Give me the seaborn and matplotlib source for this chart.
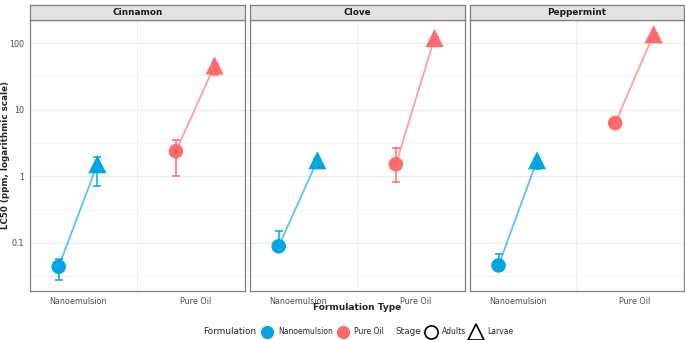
import numpy as np
import pandas as pd
import matplotlib
matplotlib.use('Agg')
import matplotlib.pyplot as plt
from matplotlib.lines import Line2D
import seaborn as sb

# data (LC50, ppm)
oil = ['Cinnamon'] * 4 + ['Clove'] * 4 + ['Peppermint'] * 4
formulation = ['Nanoemulsion', 'Nanoemulsion', 'Pure Oil', 'Pure Oil'] * 3
stage = ['Adults', 'Larvae'] * 6
lc50 = [0.044, 1.52, 2.38, 46.0,
        0.089, 1.74, 1.52, 119.0,
        0.046, 1.74, 6.3, 136.0]
lower = [0.028, 0.71, 1.01, 33.0,
         0.075, 1.62, 0.81, 112.0,
         0.040, 1.27, 5.7, 128.0]
upper = [0.058, 1.95, 3.47, 49.0,
         0.149, 1.82, 2.64, 124.0,
         0.069, 1.82, 7.0, 142.0]

oils = ['Cinnamon', 'Clove', 'Peppermint']
form_order = ['Nanoemulsion', 'Pure Oil']
palette = {'Nanoemulsion': '#00A5E3', 'Pure Oil': '#FF6B6B'}
markers = {'Adults': 'o', 'Larvae': '^'}
msize = {'Adults': 110, 'Larvae': 170}

df = pd.DataFrame({'oil': oil, 'formulation': formulation, 'stage': stage,
                   'lc50': lc50, 'lower': lower, 'upper': upper})
dodge = {'Adults': -0.165, 'Larvae': 0.165}
df['xpos'] = df['formulation'].map({f: i + 1 for i, f in enumerate(form_order)}) + df['stage'].map(dodge)

sb.set_style('white')
plt.rcParams['font.family'] = ['DejaVu Sans']

W, H = 685, 340
fig = plt.figure(figsize=(W / 100, H / 100), dpi=100)

panels_x = [(30, 245), (250, 465), (470, 684)]
top, bottom, strip_top = 20, 291, 5
grey = '#4D4D4D'

for k, (name, (x0, x1)) in enumerate(zip(oils, panels_x)):
    ax = fig.add_axes([x0 / W, 1 - bottom / H, (x1 - x0) / W, (bottom - top) / H])
    sub = df[df['oil'] == name]

    ax.set_yscale('log')
    ax.set_ylim(0.019, 222)
    ax.set_xlim(0.59, 2.425)

    # grid like theme_bw
    for e in range(-2, 3):
        ax.axhline(10.0 ** e, color='#EBEBEB', lw=0.9, zorder=0)
        ax.axhline(10.0 ** (e + 0.5), color='#F4F4F4', lw=0.6, zorder=0)
    ax.axvline(1.5, color='#EFEFEF', lw=0.7, zorder=0)

    # connecting lines
    sb.lineplot(data=sub, x='xpos', y='lc50', hue='formulation', palette=palette,
                hue_order=form_order, estimator=None, sort=True, lw=1.3, alpha=0.65,
                legend=False, ax=ax, zorder=2)

    # error bars
    for f in form_order:
        s = sub[sub['formulation'] == f]
        ax.errorbar(s['xpos'], s['lc50'],
                    yerr=[s['lc50'] - s['lower'], s['upper'] - s['lc50']],
                    fmt='none', ecolor=palette[f], elinewidth=1.1, capsize=2.6,
                    capthick=1.1, zorder=3)

    for st in ['Adults', 'Larvae']:
        sb.scatterplot(data=sub[sub['stage'] == st], x='xpos', y='lc50',
                       hue='formulation', palette=palette, hue_order=form_order,
                       marker=markers[st], s=msize[st], linewidth=0, legend=False,
                       ax=ax, zorder=4)

    ax.set_xticks([1, 2])
    ax.set_xticklabels(form_order)
    ax.set_yticks([0.1, 1, 10, 100])
    ax.set_yticks([], minor=True)
    if k == 0:
        ax.set_yticklabels(['0.1', '1', '10', '100'])
    else:
        ax.set_yticklabels([])
    ax.tick_params(axis='both', labelsize=5.8, colors=grey, length=2.5, width=0.6,
                   labelcolor=grey, pad=2)
    ax.tick_params(axis='y', length=0 if k else 2.5)
    ax.set_xlabel('')
    ax.set_ylabel('')
    for sp in ax.spines.values():
        sp.set_color('#7F7F7F')
        sp.set_linewidth(0.9)

    # strip
    sax = fig.add_axes([x0 / W, 1 - top / H, (x1 - x0) / W, (top - strip_top) / H])
    sax.set_facecolor('#E3E3E3')
    sax.set_xticks([])
    sax.set_yticks([])
    for sp in sax.spines.values():
        sp.set_color('#7F7F7F')
        sp.set_linewidth(0.9)
    sax.text(0.5, 0.5, name, transform=sax.transAxes, ha='center', va='center',
             fontsize=6.4, fontweight='bold', color='#1A1A1A')

fig.text(6 / W, 1 - 155 / H, 'LC50 (ppm, logarithmic scale)', rotation=90,
         ha='center', va='center', fontsize=6.3, fontweight='bold')
fig.text(357 / W, 1 - 307 / H, 'Formulation Type', ha='center', va='center',
         fontsize=6.5, fontweight='bold')

# legend at bottom
ly = 1 - 332 / H
fig.text(203 / W, ly, 'Formulation', ha='left', va='center', fontsize=6.4)
fig.text(395 / W, ly, 'Stage', ha='left', va='center', fontsize=6.4)
h_form = [Line2D([], [], ls='', marker='o', markersize=9.5, markeredgewidth=0,
                 color=palette[f], label=f) for f in form_order]
h_stage = [Line2D([], [], ls='', marker=markers[s], markersize=9.5 if s == 'Adults' else 11,
                  markerfacecolor='none', markeredgecolor='black', markeredgewidth=1.2,
                  label=s) for s in ['Adults', 'Larvae']]
for hs, xa in [(h_form, 263), (h_stage, 427)]:
    fig.legend(handles=hs, loc='center left', bbox_to_anchor=(xa / W, ly), ncol=2,
               frameon=False, fontsize=5.5, handlelength=1.0, handletextpad=0.95,
               columnspacing=0.8, borderpad=0, borderaxespad=0)

fig.savefig('out.png', dpi=100)
